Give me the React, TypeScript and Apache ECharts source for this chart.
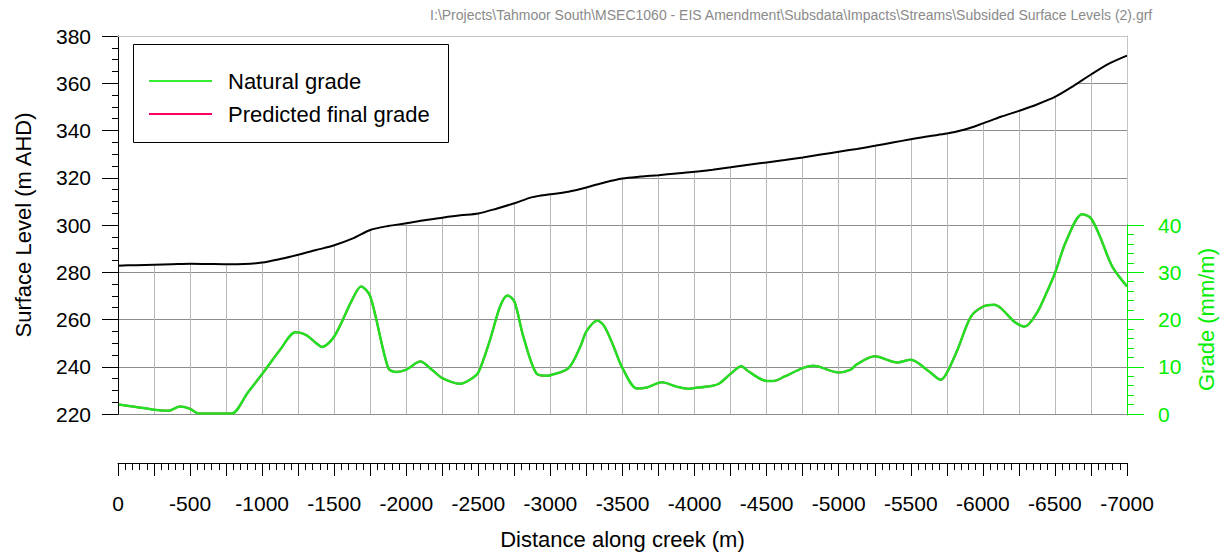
import React, { useEffect, useRef } from "react";
import * as echarts from "echarts";

const FONT = '"Liberation Sans", Arial, sans-serif';
const HEADER =
  "I:\\Projects\\Tahmoor South\\MSEC1060 - EIS Amendment\\Subsdata\\Impacts\\Streams\\Subsided Surface Levels (2).grf";

// Surface level (m AHD) along the creek
const surfaceDist = [
  0, -125, -250, -375, -500, -625, -750, -875, -1000, -1125, -1250, -1375, -1500, -1625, -1750,
  -1875, -2000, -2125, -2250, -2375, -2500, -2625, -2750, -2875, -3000, -3125, -3250, -3375,
  -3500, -3625, -3750, -3875, -4000, -4125, -4250, -4375, -4500, -4625, -4750, -4875, -5000,
  -5125, -5250, -5375, -5500, -5625, -5750, -5875, -6000, -6125, -6250, -6375, -6500, -6625,
  -6750, -6875, -7000,
];
const surfaceLevel = [
  282.8, 283.0, 283.2, 283.4, 283.6, 283.5, 283.4, 283.5, 284.1, 285.6, 287.4, 289.4, 291.4,
  294.2, 297.9, 299.6, 300.7, 302.0, 303.1, 304.1, 304.9, 306.9, 309.2, 311.8, 313.0, 314.1,
  315.9, 318.0, 319.7, 320.5, 321.1, 321.8, 322.5, 323.4, 324.4, 325.5, 326.5, 327.5, 328.6,
  329.8, 331.0, 332.2, 333.5, 334.9, 336.3, 337.6, 338.7, 340.4, 343.0, 345.8, 348.3, 351.0,
  354.2, 358.7, 363.7, 368.3, 371.7,
];

// Grade (mm/m) along the creek
const gradeDist = [
  0, -125, -250, -350, -430, -500, -560, -750, -790, -900, -1000, -1125, -1231, -1300, -1375,
  -1414, -1500, -1625, -1686, -1750, -1875, -1932, -2000, -2097, -2180, -2250, -2375, -2444,
  -2500, -2581, -2650, -2701, -2750, -2812, -2905, -2974, -3000, -3125, -3208, -3250, -3326,
  -3375, -3438, -3500, -3600, -3669, -3773, -3875, -3949, -4000, -4125, -4169, -4250, -4324,
  -4375, -4500, -4550, -4625, -4750, -4824, -5000, -5083, -5125, -5250, -5407, -5500, -5627,
  -5708, -5750, -5824, -5917, -6000, -6078, -6125, -6216, -6290, -6375, -6441, -6500, -6577,
  -6689, -6750, -6813, -6898, -7000,
];
const naturalGrade = [
  2.0, 1.5, 0.9, 0.7, 1.6, 1.1, 0.1, 0.1, 0.1, 4.5, 8.45, 13.6, 17.3, 16.8, 15.0, 14.2, 16.4,
  24.2, 27.0, 24.9, 9.7, 8.9, 9.4, 11.1, 9.3, 7.6, 6.4, 7.3, 8.8, 15.7, 22.7, 25.1, 23.8, 16.4,
  8.5, 8.1, 8.2, 9.7, 14.3, 17.5, 19.8, 18.5, 14.3, 9.7, 5.4, 5.6, 6.7, 5.8, 5.35, 5.5, 6.0,
  6.4, 8.5, 10.1, 9.0, 7.0, 7.0, 7.95, 9.7, 10.2, 8.8, 9.4, 10.5, 12.2, 10.9, 11.5, 9.0, 7.25,
  8.7, 13.6, 20.6, 22.7, 23.1, 22.4, 19.6, 18.5, 21.4, 25.6, 29.8, 36.5, 42.3, 41.4, 37.5, 31.2,
  27.0,
];
const predictedGrade = naturalGrade;

const GREEN = "#22e022";
const AXIS_GREEN = "#00ee00";
const CRIMSON = "#ff0066";

export default function App() {
  const ref = useRef<HTMLDivElement>(null);
  useEffect(() => {
    if (!ref.current) return;
    const chart = echarts.init(ref.current, undefined, { renderer: "svg" });
    const surface = surfaceDist.map((d, i) => [d, surfaceLevel[i]]);
    const natural = gradeDist.map((d, i) => [d, naturalGrade[i]]);
    const predicted = gradeDist.map((d, i) => [d, predictedGrade[i]]);
    const noAxis = { show: false };
    chart.setOption({
      animation: false,
      textStyle: { fontFamily: FONT },
      grid: [
        { left: 118, top: 36, width: 1009, height: 378 },
        { left: 118, top: 225, width: 1009, height: 189 },
        { left: 118, top: 453, width: 1009, height: 10 },
      ],
      xAxis: [
        {
          gridIndex: 0, type: "value", min: -7000, max: 0, inverse: true, interval: 250,
          axisLine: { show: false, onZero: false }, axisTick: noAxis, axisLabel: noAxis,
          splitLine: { show: true, lineStyle: { color: "#b8b8b8", width: 1 } },
        },
        {
          gridIndex: 0, type: "value", position: "top", min: -7000, max: 0, inverse: true,
          axisLine: { show: true, onZero: false, lineStyle: { color: "#c4c4c4", width: 1 } },
          axisTick: noAxis, axisLabel: noAxis, splitLine: noAxis, z: 5,
        },
        {
          gridIndex: 1, type: "value", min: -7000, max: 0, inverse: true, show: false,
          axisLine: { onZero: false },
        },
        {
          gridIndex: 2, type: "value", position: "bottom", min: -7000, max: 0, inverse: true,
          interval: 250,
          axisLine: { show: true, onZero: false, lineStyle: { color: "#000", width: 1 } },
          axisTick: { show: true, length: 13, lineStyle: { color: "#000" } },
          minorTick: { show: true, splitNumber: 5, length: 7, lineStyle: { color: "#000" } },
          axisLabel: {
            fontSize: 21, color: "#000", margin: 30, fontFamily: FONT,
            formatter: (v: number) => (v % 500 === 0 ? String(v) : ""),
          },
          splitLine: noAxis,
          name: "Distance along creek (m)", nameLocation: "middle", nameGap: 65,
          nameTextStyle: { fontSize: 22, color: "#000", fontFamily: FONT },
        },
      ],
      yAxis: [
        {
          gridIndex: 0, type: "value", position: "left", min: 220, max: 380, interval: 20,
          axisLine: { show: false, onZero: false },
          axisTick: { show: true, length: 16, lineStyle: { color: "#000" } },
          minorTick: { show: true, splitNumber: 4, length: 6, lineStyle: { color: "#000" } },
          axisLabel: { fontSize: 21, color: "#000", margin: 27, fontFamily: FONT },
          splitLine: { show: true, lineStyle: { color: "#8c8c8c", width: 1 } },
          name: "Surface Level (m AHD)", nameLocation: "middle", nameGap: 84,
          nameTextStyle: { fontSize: 22, color: "#000", fontFamily: FONT },
        },
        {
          gridIndex: 0, type: "value", position: "right", min: 0, max: 80,
          axisLine: { show: true, onZero: false, lineStyle: { color: "#c4c4c4", width: 1 } },
          axisTick: noAxis, axisLabel: noAxis, splitLine: noAxis, z: 5,
        },
        {
          gridIndex: 0, type: "value", position: "left", min: 220, max: 380,
          axisLine: { show: true, onZero: false, lineStyle: { color: "#000", width: 1 } },
          axisTick: noAxis, axisLabel: noAxis, splitLine: noAxis, z: 5,
        },
        {
          gridIndex: 1, type: "value", position: "right", min: 0, max: 40, interval: 10,
          axisLine: { show: true, onZero: false, lineStyle: { color: AXIS_GREEN, width: 1 } },
          axisTick: { show: true, length: 17, lineStyle: { color: AXIS_GREEN } },
          minorTick: { show: true, splitNumber: 5, length: 7, lineStyle: { color: AXIS_GREEN } },
          axisLabel: { fontSize: 21, color: AXIS_GREEN, margin: 31, fontFamily: FONT },
          splitLine: noAxis,
          name: "Grade (mm/m)", nameLocation: "middle", nameGap: 68,
          nameTextStyle: { fontSize: 22, color: AXIS_GREEN, fontFamily: FONT },
          z: 6,
        },
        { gridIndex: 2, type: "value", min: 0, max: 1, show: false },
      ],
      legend: {
        orient: "vertical", left: 149, top: 70, padding: 0,
        itemWidth: 63, itemHeight: 2, itemGap: 11, icon: "rect",
        textStyle: { fontSize: 22, lineHeight: 22, color: "#000", fontFamily: FONT, padding: [0, 0, 0, 11] },
        data: ["Natural grade", "Predicted final grade"],
        z: 20,
      },
      graphic: [
        {
          type: "text", right: 74, top: 8,
          style: { text: HEADER, fill: "#8a8a8a", font: `14px ${FONT}` },
        },
        {
          type: "rect", z: 10,
          shape: { x: 133.5, y: 44.5, width: 315, height: 98 },
          style: { fill: "#fff", stroke: "#000", lineWidth: 1 },
        },
      ],
      series: [
        {
          name: "Surface", type: "line", xAxisIndex: 0, yAxisIndex: 0, data: surface,
          smooth: 0.3, symbol: "none", lineStyle: { color: "#000", width: 2 },
          itemStyle: { color: "#000" },
          areaStyle: { color: "#ffffff", opacity: 1, origin: "end" }, z: 2,
        },
        {
          name: "Predicted final grade", type: "line", xAxisIndex: 0, yAxisIndex: 1, data: predicted,
          smooth: 0.3, symbol: "none", lineStyle: { color: CRIMSON, width: 2 },
          itemStyle: { color: CRIMSON }, z: 3,
        },
        {
          name: "Natural grade", type: "line", xAxisIndex: 0, yAxisIndex: 1, data: natural,
          smooth: 0.3, symbol: "none", lineStyle: { color: GREEN, width: 2.5 },
          itemStyle: { color: "#33ee33" }, z: 4,
        },
      ],
    });
    return () => chart.dispose();
  }, []);
  return (
    <div
      ref={ref}
      style={{ position: "fixed", left: 0, top: 0, width: 1227, height: 553, background: "#fff" }}
    />
  );
}
